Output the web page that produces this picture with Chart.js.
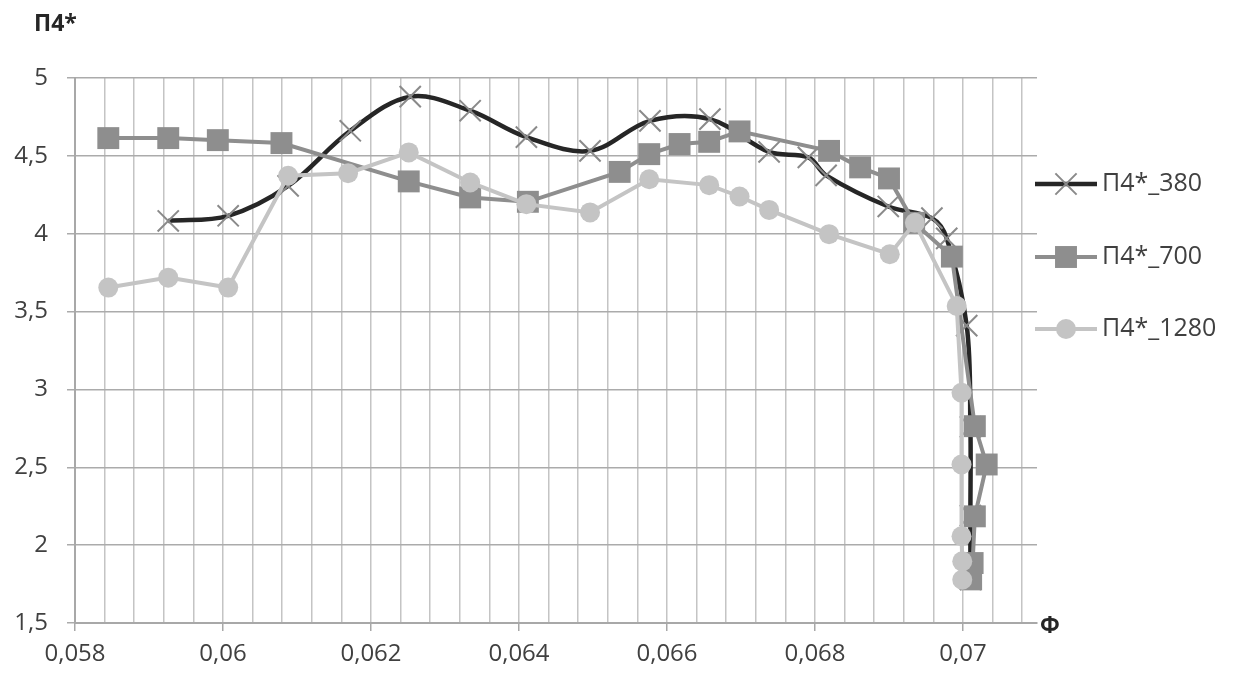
<!DOCTYPE html>
<html>
<head>
<meta charset="utf-8">
<title>П4* / Ф</title>
<script src="https://cdn.jsdelivr.net/npm/chart.js@4.4.1/dist/chart.umd.min.js"></script>
<style>
    html, body { margin: 0; padding: 0; background: #fff; }
    #wrap { width: 1234px; height: 685px; }
</style>
</head>
<body>
<div id="wrap"><canvas id="phiChart" width="1234" height="685"></canvas></div>
<script>
// Tick labels (comma decimal, as in the original)
const xMajorTicks = [0.058, 0.06, 0.062, 0.064, 0.066, 0.068, 0.07];
const xTickLabels = ['0,058', '0,06', '0,062', '0,064', '0,066', '0,068', '0,07'];
const yTickLabels = ['1,5', '2', '2,5', '3', '3,5', '4', '4,5', '5'];

const seriesNames = ['П4*_380', 'П4*_700', 'П4*_1280'];

// П4*_380
const phi380 = [0.05926, 0.06007, 0.06088, 0.06172, 0.06253, 0.06334, 0.06410, 0.06496, 0.06577, 0.06658,
                0.06738, 0.06791, 0.06815, 0.06899, 0.06958, 0.06978, 0.07005, 0.07010, 0.07010, 0.07010];
const p380   = [4.082, 4.115, 4.307, 4.661, 4.880, 4.790, 4.620, 4.532, 4.725, 4.736,
                4.525, 4.490, 4.375, 4.175, 4.100, 3.970, 3.410, 2.760, 2.190, 1.780];

// П4*_700
const phi700 = [0.05845, 0.05926, 0.05993, 0.06079, 0.06251, 0.06334, 0.06412, 0.06536, 0.06576, 0.06617,
                0.06657, 0.06698, 0.06819, 0.06861, 0.06900, 0.06934, 0.06985, 0.07016, 0.07032, 0.07016,
                0.07013, 0.07011];
const p700   = [4.614, 4.614, 4.601, 4.582, 4.336, 4.233, 4.205, 4.397, 4.511, 4.576,
                4.590, 4.657, 4.532, 4.426, 4.355, 4.070, 3.853, 2.764, 2.518, 2.185,
                1.885, 1.780];

// П4*_1280
const phi1280 = [0.05845, 0.05926, 0.06007, 0.06088, 0.06169, 0.06251, 0.06334, 0.06410, 0.06496, 0.06576,
                 0.06657, 0.06698, 0.06738, 0.06819, 0.06901, 0.06935, 0.069915, 0.06998, 0.06998, 0.06998,
                 0.06999, 0.06999];
const p1280   = [3.654, 3.718, 3.654, 4.372, 4.389, 4.522, 4.329, 4.190, 4.137, 4.350,
                 4.312, 4.239, 4.153, 3.997, 3.868, 4.070, 3.536, 2.979, 2.518, 2.057,
                 1.896, 1.778];

const textColor = '#404040';
const fontFamily = "'Open Sans', 'Noto Sans', sans-serif";

function toPoints(xs, ys) {
    return xs.map((x, i) => ({ x: x, y: ys[i] }));
}

// Axis titles and an Excel-style legend (line with marker)
const decorPlugin = {
    id: 'decor',
    afterDraw(chart) {
        const ctx = chart.ctx;
        ctx.save();
        ctx.fillStyle = '#262626';
        ctx.font = 'bold 23px ' + fontFamily;
        ctx.textBaseline = 'alphabetic';
        ctx.textAlign = 'left';
        ctx.fillText('П4*', 34, 31);
        ctx.textAlign = 'center';
        ctx.textBaseline = 'middle';
        ctx.fillText('Ф', 1050, 626);

        const rows = [184, 257, 329];
        const lineX0 = 1035, lineX1 = 1097, markX = 1066;
        chart.data.datasets.forEach((ds, i) => {
            const y = rows[i];
            ctx.strokeStyle = ds.borderColor;
            ctx.lineWidth = ds.borderWidth;
            ctx.beginPath();
            ctx.moveTo(lineX0, y);
            ctx.lineTo(lineX1, y);
            ctx.stroke();
            drawMarker(ctx, ds, markX, y);
            ctx.fillStyle = textColor;
            ctx.font = '25px ' + fontFamily;
            ctx.textAlign = 'left';
            ctx.textBaseline = 'middle';
            ctx.fillText(ds.label, 1102, y);
        });
        ctx.restore();
    }
};

function drawMarker(ctx, ds, x, y) {
    const r = ds.pointRadius;
    ctx.beginPath();
    if (ds.pointStyle === 'crossRot') {
        const d = r * Math.SQRT1_2;
        ctx.strokeStyle = ds.pointBorderColor;
        ctx.lineWidth = ds.pointBorderWidth;
        ctx.moveTo(x - d, y - d); ctx.lineTo(x + d, y + d);
        ctx.moveTo(x - d, y + d); ctx.lineTo(x + d, y - d);
        ctx.stroke();
    } else if (ds.pointStyle === 'rect') {
        const s = r * Math.SQRT1_2;
        ctx.fillStyle = ds.pointBackgroundColor;
        ctx.fillRect(x - s, y - s, 2 * s, 2 * s);
    } else {
        ctx.fillStyle = ds.pointBackgroundColor;
        ctx.arc(x, y, r, 0, Math.PI * 2);
        ctx.fill();
    }
}

const ctx = document.getElementById('phiChart').getContext('2d');
const chart = new Chart(ctx, {
    type: 'scatter',
    data: {
        datasets: [{
            label: seriesNames[0],
            data: toPoints(phi380, p380),
            showLine: true,
            tension: 0.35,
            borderColor: '#262626',
            borderWidth: 4.5,
            pointStyle: 'crossRot',
            pointRadius: 15,
            pointBorderColor: '#8a8a8a',
            pointBorderWidth: 2,
            pointBackgroundColor: 'transparent',
            order: 3
        }, {
            label: seriesNames[1],
            data: toPoints(phi700, p700),
            showLine: true,
            tension: 0,
            borderColor: '#8e8e8e',
            borderWidth: 4,
            pointStyle: 'rect',
            pointRadius: 15.5,
            pointBackgroundColor: '#8e8e8e',
            pointBorderColor: '#8e8e8e',
            pointBorderWidth: 0,
            order: 2
        }, {
            label: seriesNames[2],
            data: toPoints(phi1280, p1280),
            showLine: true,
            tension: 0,
            borderColor: '#c4c4c4',
            borderWidth: 4,
            pointStyle: 'circle',
            pointRadius: 10,
            pointBackgroundColor: '#c4c4c4',
            pointBorderColor: '#c4c4c4',
            pointBorderWidth: 0,
            order: 1
        }]
    },
    options: {
        responsive: false,
        animation: false,
        devicePixelRatio: 1,
        layout: { padding: { left: 0, right: 197, top: 78, bottom: 0 } },
        plugins: {
            legend: { display: false },
            tooltip: { enabled: false }
        },
        scales: {
            x: {
                type: 'linear',
                min: 0.058,
                max: 0.071,
                afterBuildTicks: function(scale) {
                    const ticks = [];
                    const step = (xMajorTicks[1] - xMajorTicks[0]) / 5;
                    for (let v = xMajorTicks[0]; v < scale.max - 1e-9; v += step) {
                        ticks.push({ value: +v.toFixed(5) });
                    }
                    scale.ticks = ticks;
                },
                afterFit: function(scale) { scale.height = 62; },
                grid: {
                    color: '#c4c4c4',
                    lineWidth: 1.5,
                    tickLength: 8,
                    tickColor: (c) => (c.index % 5 === 0 ? '#a8a8a8' : 'transparent')
                },
                border: { color: '#a8a8a8', width: 2 },
                ticks: {
                    autoSkip: false,
                    maxRotation: 0,
                    padding: 9,
                    color: textColor,
                    font: { family: fontFamily, size: 24 },
                    callback: (value, index) => (index % 5 === 0 ? xTickLabels[index / 5] : '')
                }
            },
            y: {
                min: 1.5,
                max: 5,
                afterFit: function(scale) { scale.width = 75; },
                grid: {
                    color: '#ababab',
                    lineWidth: 1.5,
                    tickLength: 8,
                    tickColor: '#ababab'
                },
                border: { color: '#a8a8a8', width: 2 },
                ticks: {
                    stepSize: 0.5,
                    padding: 19,
                    color: textColor,
                    font: { family: fontFamily, size: 24 },
                    callback: (value, index) => yTickLabels[index]
                }
            }
        }
    },
    plugins: [decorPlugin]
});
</script>
</body>
</html>
